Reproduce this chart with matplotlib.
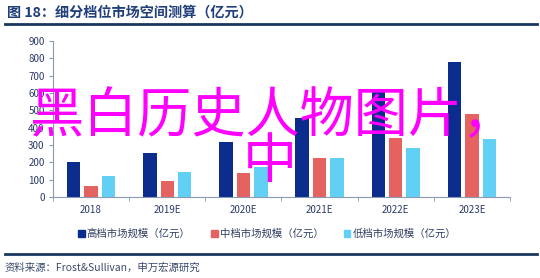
import numpy as np
import matplotlib.pyplot as plt
from matplotlib.patches import Patch
from matplotlib.lines import Line2D

plt.rcParams['font.family'] = ['Noto Sans CJK SC', 'DejaVu Sans']

years = ["2018", "2019E", "2020E", "2021E", "2022E", "2023E"]
high = [202, 252, 320, 454, 608, 777]
mid = [62, 92, 137, 223, 340, 477]
low = [123, 144, 171, 227, 281, 334]
series_names = ["高档市场规模（亿元）", "中档市场规模（亿元）", "低档市场规模（亿元）"]
colors = ["#0B2C8C", "#E46360", "#62CFF4"]

text_c = "#2B3A67"

fig = plt.figure(figsize=(5.4, 2.78), dpi=100)
ax = fig.add_axes([53 / 540, 1 - 197 / 278, (510 - 53) / 540, (197 - 41) / 278])

x = np.arange(len(years))
w = 0.176
step = 0.229
for i, (vals, c) in enumerate(zip([high, mid, low], colors)):
    ax.bar(x + (i - 1) * step, vals, width=w, color=c, zorder=2)

ax.set_xlim(-0.5, len(years) - 0.5)
ax.set_ylim(0, 900)
ax.set_yticks(range(0, 1000, 100))
ax.set_xticks(x)
ax.set_xticklabels(years)
ax.set_xticks(np.arange(-0.5, len(years), 1), minor=True)
ax.tick_params(axis='x', which='major', length=0, labelsize=7, colors=text_c, pad=6)
ax.tick_params(axis='x', which='minor', length=3, color="#8A9AB5", direction='out')
ax.tick_params(axis='y', length=3, color="#8A9AB5", labelsize=7, labelcolor=text_c, pad=3)
for s in ["top", "right"]:
    ax.spines[s].set_visible(False)
for s in ["left", "bottom"]:
    ax.spines[s].set_color("#8A9AB5")
    ax.spines[s].set_linewidth(0.8)

# title and rules
fig.text(7 / 540, 1 - 13 / 278, "图 18：细分档位市场空间测算（亿元）", fontsize=10.2,
         fontweight='bold', color="#1F3E7A", va='center', ha='left')
fig.add_artist(Line2D([5 / 540, 537 / 540], [1 - 24 / 278] * 2, color="#17375E", lw=2))
fig.add_artist(Line2D([5 / 540, 537 / 540], [1 - 254 / 278] * 2, color="#17375E", lw=2))
fig.text(5 / 540, 1 - 268 / 278, "资料来源：Frost&Sullivan，申万宏源研究", fontsize=7.5,
         color="#3A4A6A", va='center', ha='left')

handles = [Patch(color=c, label=n) for c, n in zip(colors, series_names)]
fig.legend(handles=handles, loc='center', bbox_to_anchor=(0.495, 1 - 234 / 278), ncol=3,
           frameon=False, fontsize=7.5, handlelength=0.6, handleheight=0.6,
           handletextpad=0.2, columnspacing=2.0, labelcolor="#2F3F60")

# watermark overlay
fig.text(0.505, 1 - 117 / 278, "黑白历史人物图片，", fontsize=39, color="#FF00FF",
         ha='center', va='center')
fig.text(0.5, 1 - 162 / 278, "中", fontsize=39, color="#FF00FF",
         ha='center', va='center')

fig.savefig("out.png", dpi=100)
